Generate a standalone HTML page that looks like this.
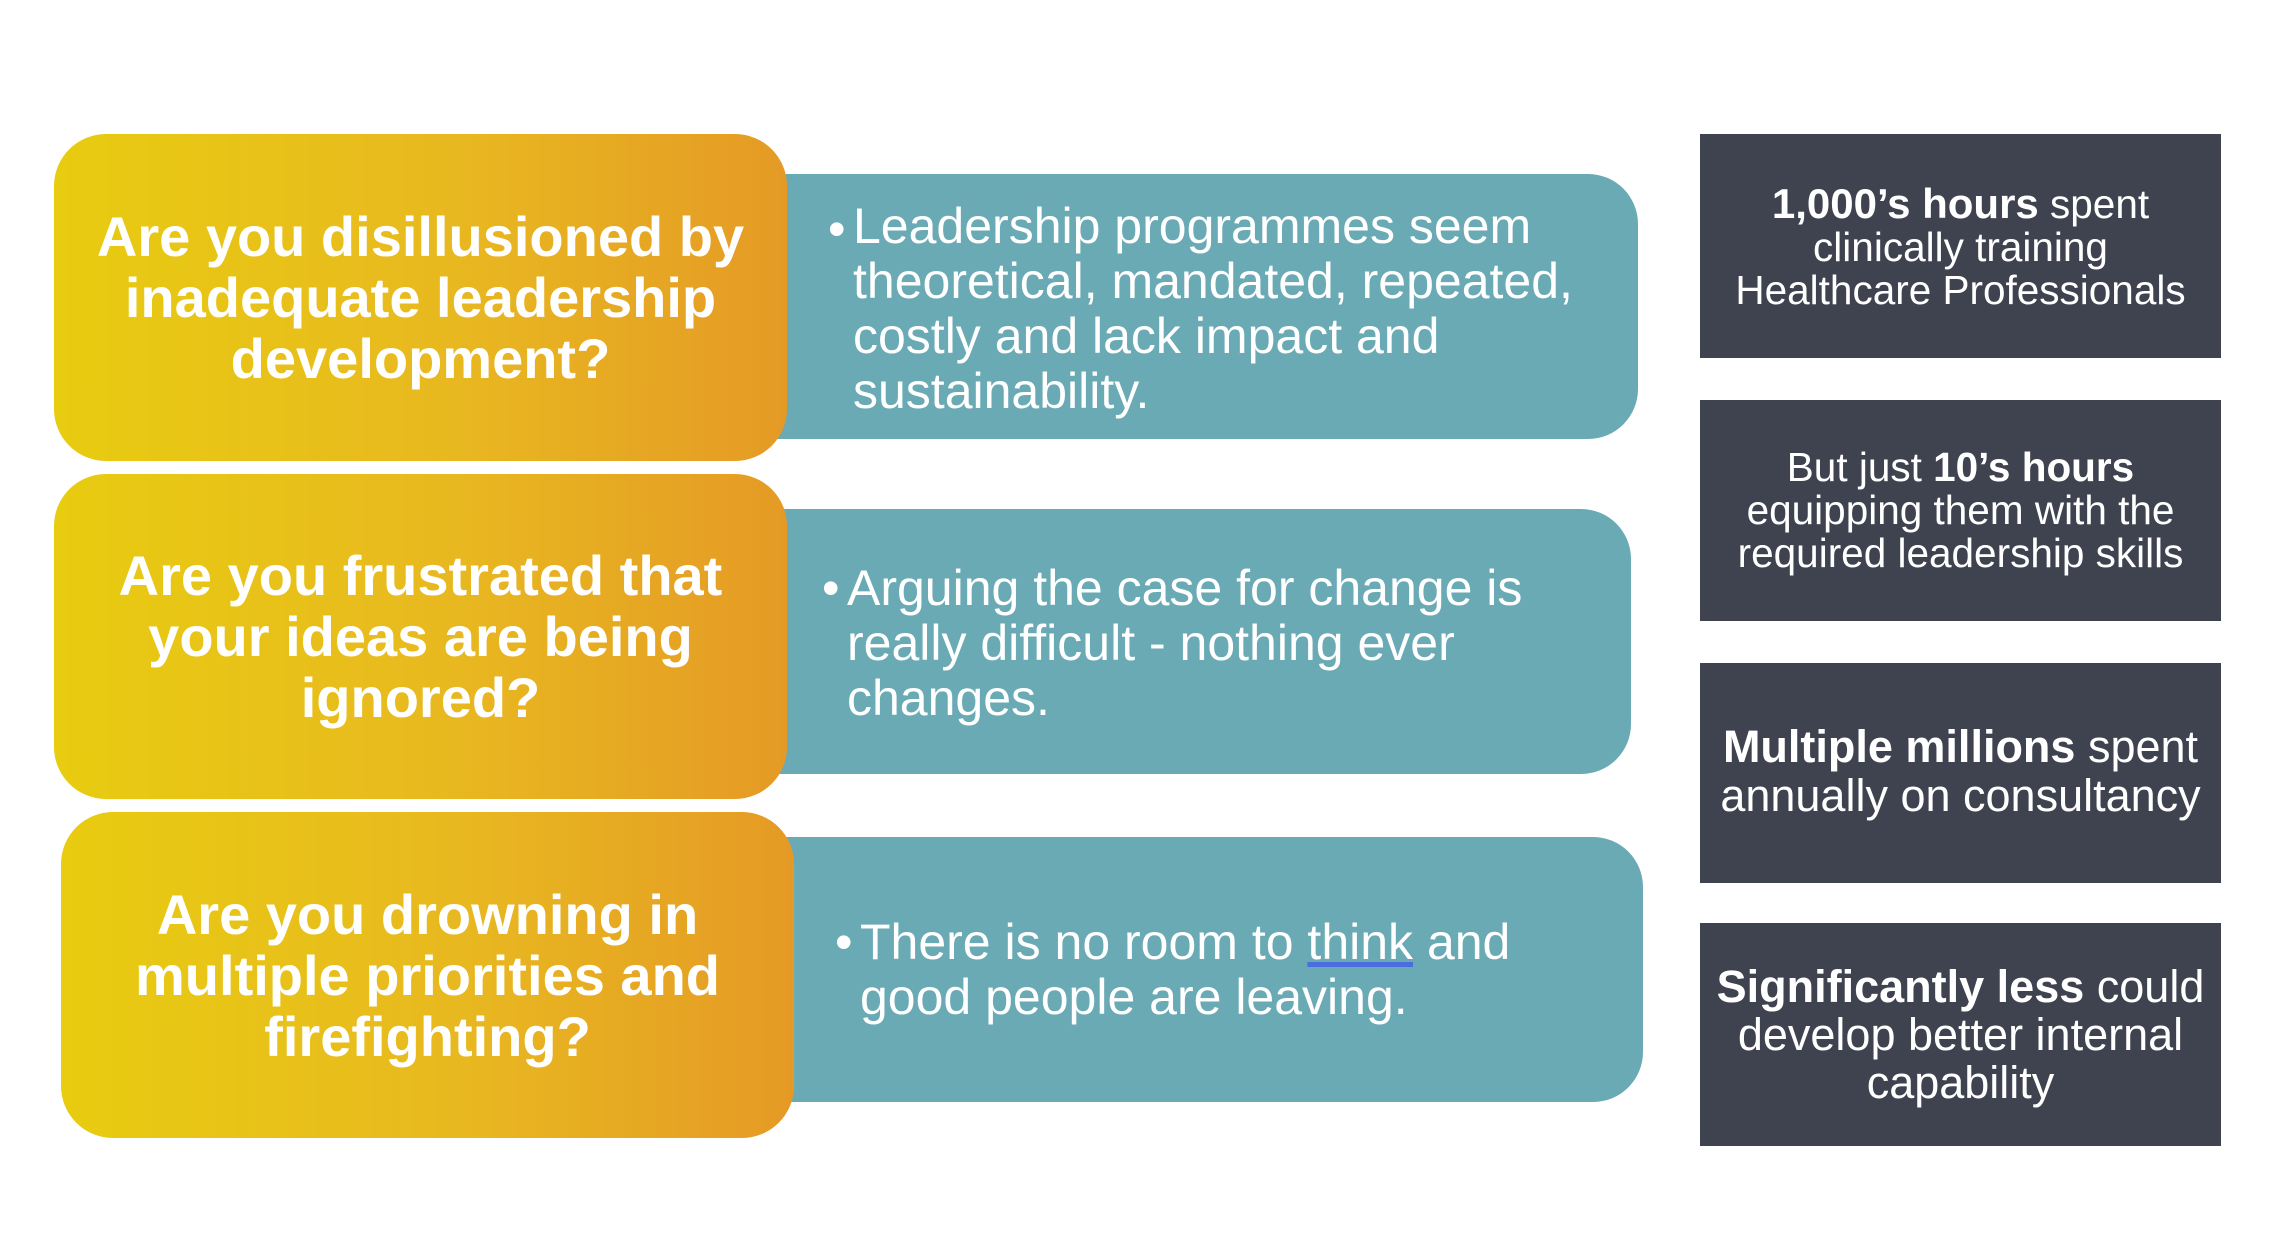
<!DOCTYPE html>
<html><head><style>
body{margin:0;width:2273px;height:1242px;background:#fff;position:relative;overflow:hidden;font-family:"Liberation Sans",Arial,sans-serif;}
.o{position:absolute;border-radius:52px;background:linear-gradient(90deg,#e8cc10 0%,#e8b820 55%,#e59a25 100%);color:#fff;font-weight:bold;font-size:56px;line-height:61px;text-align:center;display:flex;align-items:center;justify-content:center;box-sizing:border-box;padding:0 10px;white-space:nowrap;}
.t{position:absolute;background:#6aaab5;border-radius:0 50px 50px 0;color:#fff;font-size:50px;line-height:55px;box-sizing:border-box;white-space:nowrap;}
.t .b{position:absolute;}
.d{position:absolute;left:1700px;width:521px;background:#3f4350;color:#fff;font-size:40.5px;line-height:43px;text-align:center;display:flex;align-items:center;justify-content:center;box-sizing:border-box;padding:0;white-space:nowrap;}
</style></head><body>
<div class="t" style="left:776px;top:174px;width:862px;height:265px;"><span class="b" style="left:52px;top:28px;">•</span><div style="position:absolute;left:77px;top:25px;">Leadership programmes seem<br>theoretical, mandated, repeated,<br>costly and lack impact and<br>sustainability.</div></div>
<div class="t" style="left:776px;top:509px;width:855px;height:265px;"><span class="b" style="left:46px;top:52px;">•</span><div style="position:absolute;left:71px;top:52px;">Arguing the case for change is<br>really difficult - nothing ever<br>changes.</div></div>
<div class="t" style="left:783px;top:837px;width:860px;height:265px;"><span class="b" style="left:52px;top:78px;">•</span><div style="position:absolute;left:77px;top:78px;">There is no room to <u style="text-decoration-color:#4a6ee0">think</u> and<br>good people are leaving.</div></div>
<div class="o" style="left:54px;top:134px;width:733px;height:327px;">Are you disillusioned by<br>inadequate leadership<br>development?</div>
<div class="o" style="left:54px;top:474px;width:733px;height:325px;">Are you frustrated that<br>your ideas are being<br>ignored?</div>
<div class="o" style="left:61px;top:812px;width:733px;height:326px;">Are you drowning in<br>multiple priorities and<br>firefighting?</div>
<div class="d" style="top:134px;height:224px;"><div style="margin-top:2px"><b style="font-size:42px">1,000’s hours</b> spent<br>clinically training<br>Healthcare Professionals</div></div>
<div class="d" style="top:400px;height:221px;"><div>But just <b>10’s hours</b><br>equipping them with the<br>required leadership skills</div></div>
<div class="d" style="top:663px;height:220px;font-size:45px;line-height:49px;"><div style="margin-top:-4px"><b>Multiple millions</b> spent<br>annually on consultancy</div></div>
<div class="d" style="top:923px;height:223px;font-size:45px;line-height:48px;"><div><b>Significantly less</b> could<br>develop better internal<br>capability</div></div>
</body></html>
